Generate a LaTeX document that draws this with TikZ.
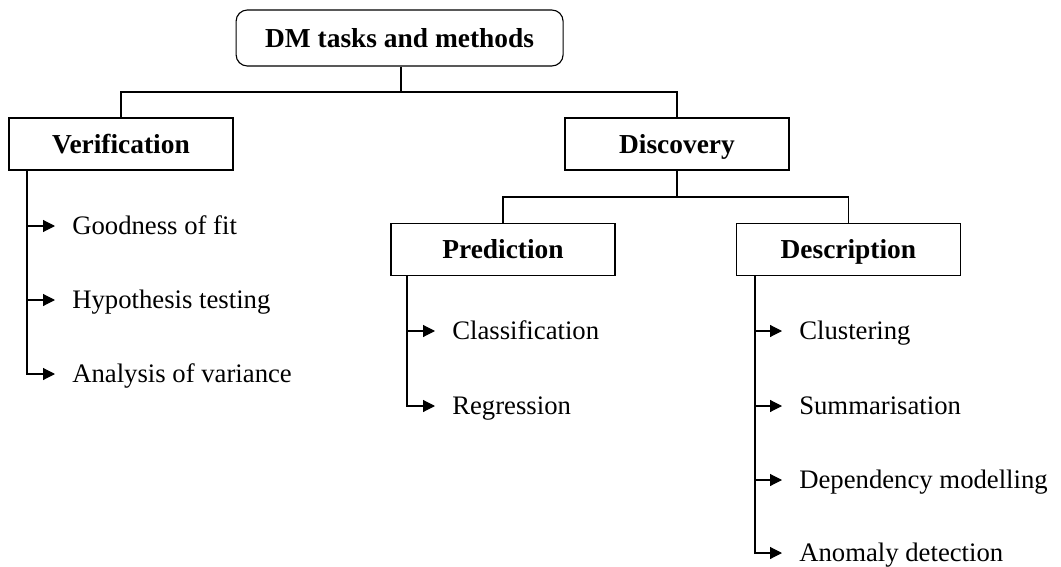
\documentclass[tikz,border=0pt]{standalone}
\usepackage{fontspec}
\setmainfont{Liberation Serif}
\usetikzlibrary{arrows.meta,positioning}

\begin{document}
\begin{tikzpicture}[
  box/.style={draw,thick,minimum width=5.6cm,minimum height=1.3cm,
              text height=12.9pt,text depth=0pt,
              font=\fontsize{19.5}{22}\selectfont\bfseries},
  rootbox/.style={box,rounded corners=8pt,minimum width=8.175cm,minimum height=1.4cm},
  leaf/.style={anchor=west,inner sep=0pt,text height=12.6pt,text depth=0pt,
               font=\fontsize{19}{22}\selectfont},
  link/.style={thick},
  branch/.style={thick,-{Triangle[length=3mm,width=3mm]},shorten >=0.425cm}]
  \useasboundingbox (0,0) rectangle (26.525,-14.175);
  % Boxes
  \node[rootbox] (dm) at (9.99,-0.95) {DM tasks and methods};
  \node[box] (verif) at (3.025,-3.6) {Verification};
  \node[box] (disc) at (16.925,-3.6) {Discovery};
  \node[box] (pred) at (12.575,-6.24) {Prediction};
  \node[box] (descr) at (21.21,-6.24) {Description};
  % Tree lines
  \coordinate (bus1) at (10.025,-2.3);
  \coordinate (bus2) at (16.925,-4.925);
  \draw[link] (dm.south -| bus1) -- (bus1);
  \draw[link] (bus1) -| (verif.north);
  \draw[link] (bus1) -| (disc.north);
  \draw[link] (disc.south) -- (bus2);
  \draw[link] (bus2) -| (pred.north);
  \draw[link] (bus2) -| (descr.north);
  % Leaves
  \node[leaf] (gof) at (1.8,-5.65) {Goodness of fit};
  \node[leaf] (hyp) at (1.8,-7.5) {Hypothesis testing};
  \node[leaf] (anova) at (1.8,-9.35) {Analysis of variance};
  \node[leaf] (classif) at (11.3,-8.275) {Classification};
  \node[leaf] (regr) at (11.3,-10.15) {Regression};
  \node[leaf] (clust) at (19.975,-8.275) {Clustering};
  \node[leaf] (summ) at (19.975,-10.15) {Summarisation};
  \node[leaf] (dep) at (19.975,-12.0) {Dependency modelling};
  \node[leaf] (anom) at (19.975,-13.825) {Anomaly detection};
  % Leaf arrows
  \coordinate (vv) at (0.675,-4.25);
  \coordinate (pv) at (10.175,-6.9);
  \coordinate (dv) at (18.875,-6.9);
  \foreach \t in {gof,hyp,anova} \draw[branch] (vv) |- (\t.west);
  \foreach \t in {classif,regr} \draw[branch] (pv) |- (\t.west);
  \foreach \t in {clust,summ,dep,anom} \draw[branch] (dv) |- (\t.west);
\end{tikzpicture}
\end{document}
